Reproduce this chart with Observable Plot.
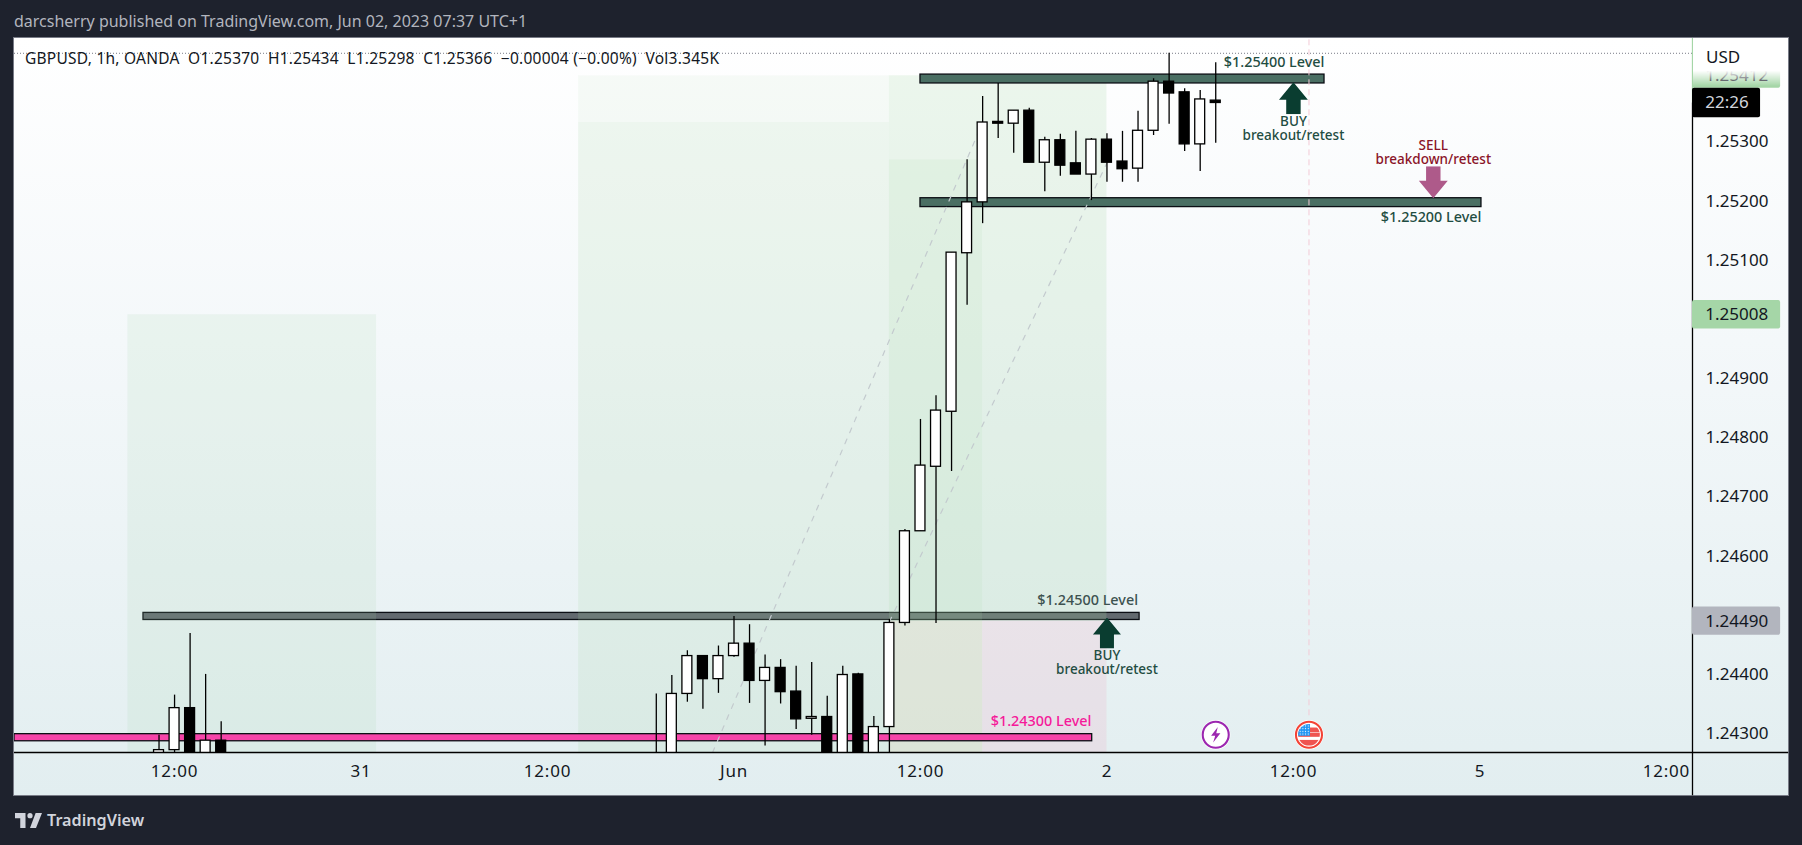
<!DOCTYPE html>
<html>
<head>
<meta charset="utf-8">
<script src="https://cdn.jsdelivr.net/npm/d3@7"></script>
<script src="https://cdn.jsdelivr.net/npm/@observablehq/plot@0.6"></script>
<style>
html,body{margin:0;padding:0;background:#1e222d;width:1802px;height:845px;overflow:hidden}
body,text,div{font-family:"Noto Sans",sans-serif}
#title{position:absolute;left:14px;top:0;height:38px;line-height:42px;font-size:16px;color:#b2b5be;white-space:pre}
#panel{position:absolute;left:14px;top:38px;width:1774px;height:757px;background:linear-gradient(180deg,#fff 0%,#f4f8fa 40%,#e2eef0 100%);box-shadow:0 0 0 1px #787b86}
#panel svg{position:absolute;left:0;top:0;display:block}
#panel g[aria-label="x-axis tick label"] text{letter-spacing:.8px}
#legend{position:absolute;left:11px;top:9px;font-size:15.5px;letter-spacing:.24px;line-height:22px;color:#131722;white-space:pre}
#usd{position:absolute;left:1679px;top:0;width:94px;height:48px;background:linear-gradient(180deg,#fff 0,#fff 68%,rgba(255,255,255,0) 100%);font-size:17px;color:#131722}
#usd span{position:absolute;left:13px;top:10px;line-height:17px}
#footer{position:absolute;left:15px;top:795px;height:50px;display:flex;align-items:center;color:#d1d4dc;font-size:16.2px;font-weight:600;gap:5px}
</style>
</head>
<body>
<div id="title">darcsherry published on TradingView.com, Jun 02, 2023 07:37 UTC+1</div>
<div id="panel">
  <div id="legend">GBPUSD, 1h, OANDA  O1.25370  H1.25434  L1.25298  C1.25366  −0.00004 (−0.00%)  Vol3.345K</div>
</div>
<div id="footer"><svg width="27" height="15" viewBox="0 0 36 20"><path fill="#d1d4dc" d="M14 0H0v7h7v13h7zM28 20h-8l7.5-20H36zM20 7a3.5 3.5 0 1 0 0-7 3.5 3.5 0 0 0 0 7z"/></svg><span>TradingView</span></div>
<script>
// ---- hourly candles; hour 0 is 30 May 12:00, the weekend is collapsed on the axis
const candleHour = [-1,0,1,2,3,31,32,33,34,35,36,37,38,39,40,41,42,43,44,45,46,47,48,49,50,51,52,53,54,55,56,57,58,59,60,61,62,63,64,65,66,67];
const openPrice  = [1.2425,1.24272,1.24343,1.2425,1.24288,1.2426,1.2425,1.24367,1.24431,1.24392,1.24431,1.24452,1.24389,1.24411,1.24371,1.24325,1.24328,1.2425,1.244,1.2425,1.24311,1.24487,1.24642,1.24751,1.24844,1.25112,1.25198,1.25334,1.25331,1.25353,1.25265,1.25303,1.25264,1.25245,1.25304,1.25267,1.25255,1.25319,1.25402,1.25384,1.25296,1.2537];
const highPrice  = [1.24297,1.24365,1.24469,1.244,1.2432,1.24367,1.24398,1.2444,1.24431,1.24448,1.24498,1.24484,1.24433,1.24425,1.24414,1.2442,1.24363,1.24414,1.24402,1.24329,1.24493,1.24645,1.24831,1.24871,1.25113,1.2527,1.25377,1.25399,1.25353,1.25357,1.25308,1.25313,1.25318,1.25306,1.25314,1.25318,1.25352,1.25407,1.2545,1.2539,1.25387,1.25434];
const lowPrice   = [1.2424,1.2425,1.2424,1.2424,1.2424,1.2424,1.2424,1.24353,1.24341,1.24368,1.24429,1.24351,1.24279,1.2435,1.24307,1.24297,1.2424,1.2424,1.2424,1.2424,1.2424,1.24482,1.24642,1.24486,1.24743,1.25024,1.25162,1.25306,1.25281,1.25265,1.25216,1.25242,1.25245,1.25201,1.25232,1.25232,1.25232,1.25311,1.2533,1.25284,1.2525,1.25298];
const closePrice = [1.24272,1.24343,1.2425,1.24288,1.2425,1.2425,1.24367,1.24431,1.24392,1.24431,1.24452,1.24389,1.24411,1.2437,1.24324,1.24328,1.2425,1.24399,1.2425,1.24311,1.24487,1.24642,1.24753,1.24846,1.25113,1.25198,1.25333,1.25331,1.25353,1.25265,1.25303,1.2526,1.25245,1.25304,1.25265,1.25254,1.25319,1.25402,1.25382,1.25296,1.25372,1.25366];

// ---- axes
const hourDomain = [-10.3, 97.68];
const priceDomain = [1.24268, 1.25475];
const panelRightHour = 103.87;
const panelBottomPrice = 1.24195;
const xTickHours = [0,12,24,36,48,60,72,84,96];
const xTickLabels = ["12:00","31","12:00","Jun","12:00","2","12:00","5","12:00"];
const yTicks = [1.243,1.244,1.246,1.247,1.248,1.249,1.251,1.252,1.253];
const priceTextHour = 98.5;

// ---- shaded position zones
const zoneGreen = "rgba(165,214,167,";
const zoneStart  = [-3,26,26,46,46,46,52,52];
const zoneEnd    = [13,46,46,52,52,52,60,60];
const zoneTop    = [1.25008,1.25412,1.25333,1.25412,1.2527,1.2449,1.25412,1.2449];
const zoneBottom = [1.24,1.25333,1.24,1.2527,1.2449,1.24,1.2449,1.24];
const zoneColor  = [zoneGreen+".14)",zoneGreen+".09)",zoneGreen+".17)",zoneGreen+".2)",zoneGreen+".3)","rgba(190,185,120,.2)",zoneGreen+".2)","rgba(244,143,177,.15)"];

// ---- horizontal level bands
const levelStart = [48,48,-2,-10.3];
const levelEnd   = [74,84.1,62.1,59.05];
const levelTop   = [1.25414,1.25205,1.24504,1.24299];
const levelBase  = [1.25399,1.2519,1.24492,1.24287];
const levelColor = ["#4a6f63","#4a6f63","#62696f","#f645a9"];
const levelUnderZones = [false,false,true,false];

// ---- dashed diagonals
const trendHours  = [[34.62,52],[46,60.04]];
const trendPrices = [[1.24268,1.25333],[1.24489,1.25267]];

// ---- level captions
const levelNoteText  = ["$1.25400 Level","$1.25200 Level","$1.24500 Level","$1.24300 Level"];
const levelNoteHour  = [74,84.1,62,59];
const levelNotePrice = [1.25434,1.25172,1.24525,1.2432];
const levelNoteColor = ["#1f4d42","#1f4d42","#3d5250","#f5199a"];

// ---- trade captions
const tradeNoteText  = ["BUY\nbreakout/retest","SELL\nbreakdown/retest","BUY\nbreakout/retest"];
const tradeNoteHour  = [72,81,60];
const tradeNotePrice = [1.25323,1.25283,1.2442];
const tradeNoteColor = ["#1f4d42","#8a1428","#1f4d42"];

// ---- price tags on the right scale
const tagPrice = [1.25412,1.25366,1.25008,1.2449];
const tagText  = ["1.25412","22:26","1.25008","1.24490"];
const tagEnd   = [103.35,102.06,103.35,103.35];
const tagFill  = ["#a5d6a7","#000000","#a5d6a7","#b2b5be"];
const tagInk   = ["#131722","#d1d4dc","#131722","#131722"];
const tagHalf  = [0.00021,0.00025,0.00024,0.00024];

// ---- icons
const svgUri = s => "data:image/svg+xml;utf8," + encodeURIComponent(s);
const arrowUp = c => svgUri(`<svg xmlns="http://www.w3.org/2000/svg" viewBox="0 0 30 31"><polygon fill="${c}" points="15,0 29,17 22,17 22,31 8,31 8,17 1,17"/></svg>`);
const arrowDown = c => svgUri(`<svg xmlns="http://www.w3.org/2000/svg" viewBox="0 0 30 31"><polygon fill="${c}" points="15,31 29,14 22,14 22,0 8,0 8,14 1,14"/></svg>`);
const boltIcon = svgUri(`<svg xmlns="http://www.w3.org/2000/svg" viewBox="0 0 30 30"><circle cx="15" cy="15" r="14.2" fill="#fff"/><circle cx="15" cy="15" r="12.6" fill="#fff" stroke="#9c27b0" stroke-width="2"/><polygon fill="#9c27b0" points="17,7.5 10.5,16 14.5,16 12.5,22.5 19.5,13.5 15.5,13.5"/></svg>`);
const flagIcon = svgUri(`<svg xmlns="http://www.w3.org/2000/svg" viewBox="0 0 30 30"><defs><clipPath id="c"><circle cx="15" cy="15" r="10.5"/></clipPath><pattern id="s" width="2.6" height="2.6" patternUnits="userSpaceOnUse"><rect width="2.6" height="2.6" fill="#2196f3"/><circle cx="1.3" cy="1.3" r=".6" fill="#fff"/></pattern></defs><circle cx="15" cy="15" r="14.2" fill="#fff"/><circle cx="15" cy="15" r="12.6" fill="#fff" stroke="#f44336" stroke-width="2"/><g clip-path="url(#c)"><rect x="4" y="8" width="24" height="4.5" fill="#ef5350"/><rect x="4" y="13" width="24" height="4" fill="#ef5350"/><rect x="4" y="20" width="24" height="6" fill="#ef5350"/><rect x="4" y="4" width="12" height="12" fill="url(#s)"/></g></svg>`);
const iconHour  = [72,81,60,67,73];
const iconPrice = [1.25374,1.25232,1.2447,1.24298,1.24298];
const iconSrc   = [arrowUp("#0a3d30"),arrowDown("#ae5a8a"),arrowUp("#0a3d30"),boltIcon,flagIcon];
const iconSize  = [32,32,31,31,31];

const candles = candleHour.map((h,i)=>({h,o:openPrice[i],hi:highPrice[i],lo:lowPrice[i],c:closePrice[i]}));
const up = d => d.c >= d.o;
const zones = zoneStart.map((s,i)=>({s,e:zoneEnd[i],t:zoneTop[i],b:zoneBottom[i],f:zoneColor[i]}));
const levels = levelStart.map((s,i)=>({s,e:levelEnd[i],t:levelTop[i],b:levelBase[i],f:levelColor[i],under:levelUnderZones[i]}));
const trends = trendHours.flatMap((hs,k)=>hs.map((h,j)=>({k,h,p:trendPrices[k][j]})));
const levelNotes = levelNoteText.map((t,i)=>({t,h:levelNoteHour[i],p:levelNotePrice[i],f:levelNoteColor[i]}));
const tradeNotes = tradeNoteText.map((t,i)=>({t,h:tradeNoteHour[i],p:tradeNotePrice[i],f:tradeNoteColor[i]}));
const tags = tagPrice.map((p,i)=>({p,t:tagText[i],e:tagEnd[i],f:tagFill[i],ink:tagInk[i],half:tagHalf[i]}));
const icons = iconHour.map((h,i)=>({h,p:iconPrice[i],src:iconSrc[i],s:iconSize[i]}));
const bodyHalf = 0.32;
const levelOpts = {x1:"s",x2:"e",y1:"b",y2:"t",fill:"f",stroke:"#0b0e14",strokeWidth:1.3,clip:true};

const chart = Plot.plot({
  width: 1774, height: 757,
  marginLeft: 0, marginRight: 96, marginTop: 0, marginBottom: 43,
  style: {background: "transparent", fontFamily: '"Noto Sans",sans-serif', overflow: "visible"},
  x: {type: "linear", domain: hourDomain},
  y: {type: "linear", domain: priceDomain},
  color: {type: "identity"},
  marks: [
    Plot.rect(levels.filter(d=>d.under), levelOpts),
    Plot.rect(zones, {x1:"s",x2:"e",y1:"b",y2:"t",fill:"f",clip:true}),
    Plot.rect(levels.filter(d=>!d.under), levelOpts),
    Plot.ruleX([73], {y1:1.2433,y2:priceDomain[1],stroke:"#f3cbd6",strokeDasharray:"6 4",strokeWidth:1}),
    Plot.line(trends, {x:"h",y:"p",z:"k",stroke:"#c3cace",strokeWidth:1.2,strokeDasharray:"5 7",clip:true}),
    Plot.ruleY([1.2545], {stroke:"#787b86",strokeWidth:1,strokeDasharray:"1 2"}),
    // candles
    Plot.ruleX(candles, {x:"h",y1:"lo",y2:"hi",stroke:"#000",strokeWidth:1.3,clip:true}),
    Plot.rect(candles, {x1:d=>d.h-bodyHalf,x2:d=>d.h+bodyHalf,y1:d=>Math.min(d.o,d.c),y2:d=>Math.max(d.o,d.c),
      fill:d=>up(d)?"#fff":"#000",stroke:"#000",strokeWidth:1.3,clip:true}),
    // frame of the scales
    Plot.ruleY([priceDomain[0]], {x1:hourDomain[0],x2:panelRightHour,stroke:"#000",strokeWidth:1.3}),
    Plot.ruleX([hourDomain[1]], {y1:panelBottomPrice,y2:1.25366,stroke:"#000",strokeWidth:1.3}),
    Plot.ruleX([hourDomain[1]], {y1:1.25366,y2:priceDomain[1],stroke:"#a5d6a7",strokeWidth:1.3}),
    Plot.axisX({ticks:xTickHours,tickFormat:h=>xTickLabels[xTickHours.indexOf(h)],tickSize:0,tickPadding:12,fontSize:17,label:null,color:"#131722"}),
    Plot.axisY({anchor:"right",ticks:yTicks,tickFormat:d=>d.toFixed(5),tickSize:0,tickPadding:13,fontSize:17,label:null,color:"#131722"}),
    // price tags
    Plot.rect(tags, {x1:hourDomain[1],x2:"e",y1:d=>d.p-d.half,y2:d=>d.p+d.half,fill:"f",r:2}),
    Plot.text(tags, {x:priceTextHour,y:"p",text:"t",fill:"ink",textAnchor:"start",fontSize:17}),
    // icons and annotations
    Plot.image(icons, {x:"h",y:"p",src:"src",width:"s",height:"s"}),
    Plot.text(levelNotes, {x:"h",y:"p",text:"t",fill:"f",textAnchor:"end",fontSize:14.4,fontWeight:500}),
    Plot.text(tradeNotes, {x:"h",y:"p",text:"t",fill:"f",textAnchor:"middle",fontSize:13.5,fontWeight:500,lineHeight:1.05})
  ]
});
const panel = document.getElementById("panel");
panel.insertBefore(chart, panel.firstChild);
const usd = document.createElement("div");
usd.id = "usd";
usd.innerHTML = "<span>USD</span>";
panel.appendChild(usd);
</script>
</body>
</html>
